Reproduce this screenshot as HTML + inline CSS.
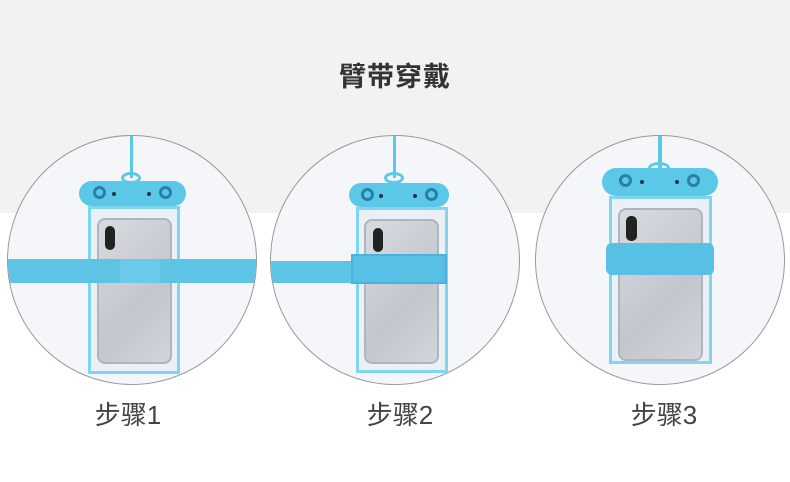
<!DOCTYPE html>
<html><head><meta charset="utf-8"><style>
*{margin:0;padding:0;box-sizing:border-box}
body{width:790px;height:482px;position:relative;overflow:hidden;background:#fff;font-family:"Liberation Sans","Noto Sans CJK SC",sans-serif}
.top{position:absolute;left:0;top:0;width:790px;height:213px;background:#f2f2f2}
.title{position:absolute;left:0;width:790px;top:55px;text-align:center;font-size:27px;font-weight:bold;color:#333;letter-spacing:1px}
.c{position:absolute;top:135px;width:250px;height:250px;border-radius:50%;border:1.5px solid #999;background:#f4f6fa;overflow:hidden}
.a{position:absolute}
.cap{background:#5cc8e8;border-radius:14px}
.hole{position:absolute;width:13px;height:13px;border-radius:50%;border:3px solid #2a7fa8;top:7px}
.dot{position:absolute;width:4px;height:4px;border-radius:50%;background:#234;top:12px}
.body{border:3px solid #7fd6f0;background:#eaf0f6}
.phone{background:linear-gradient(135deg,#d8dbe1,#c2c6cd 60%,#d2d5db);border-radius:8px;border:2px solid #b0b4bc}
.cam{background:#222;border-radius:5px}
.strap{background:#5ec4e6}
.cord{background:#5cc8e8}
.lbl{position:absolute;top:395px;font-size:26px;color:#444;width:200px;text-align:center}
</style></head><body>
<div class="top"></div>
<div class="title">臂带穿戴</div>

<!-- circle 1 -->
<div class="c" style="left:7px">
 <div class="a cord" style="left:122px;top:0;width:3px;height:42px"></div>
 <div class="a" style="left:113px;top:36px;width:20px;height:12px;border:3px solid #5cc8e8;border-radius:50%"></div>
 <div class="a cap" style="left:71px;top:45px;width:107px;height:25px"><div class="hole" style="left:14px;top:5px"></div><div class="dot" style="left:33px;top:11px"></div><div class="dot" style="left:68px;top:11px"></div><div class="hole" style="left:80px;top:5px"></div></div>
 <div class="a body" style="left:80px;top:70px;width:92px;height:168px"></div>
 <div class="a phone" style="left:89px;top:82px;width:75px;height:146px"></div>
 <div class="a cam" style="left:97px;top:90px;width:10px;height:24px"></div>
 <div class="a strap" style="left:0;top:123px;width:250px;height:24px"></div>
 <div class="a" style="left:112px;top:123px;width:40px;height:24px;background:#6cc9ea"></div>
</div>

<!-- circle 2 -->
<div class="c" style="left:270px">
 <div class="a cord" style="left:122px;top:0;width:3px;height:42px"></div>
 <div class="a" style="left:113px;top:36px;width:20px;height:12px;border:3px solid #5cc8e8;border-radius:50%"></div>
 <div class="a cap" style="left:78px;top:47px;width:100px;height:24px"><div class="hole" style="left:12px;top:5px"></div><div class="dot" style="left:30px;top:11px"></div><div class="dot" style="left:64px;top:11px"></div><div class="hole" style="left:76px;top:5px"></div></div>
 <div class="a body" style="left:85px;top:71px;width:92px;height:166px"></div>
 <div class="a phone" style="left:93px;top:83px;width:75px;height:145px"></div>
 <div class="a cam" style="left:102px;top:92px;width:10px;height:24px"></div>
 <div class="a strap" style="left:0;top:125px;width:85px;height:22px"></div>
 <div class="a strap" style="left:80px;top:118px;width:96px;height:30px;background:#58c0e4;border:2px solid #49b3da"></div>
</div>

<!-- circle 3 -->
<div class="c" style="left:535px">
 <div class="a cord" style="left:122px;top:0;width:4px;height:32px"></div>
 <div class="a" style="left:112px;top:26px;width:22px;height:12px;border:3px solid #5cc8e8;border-radius:50%"></div>
 <div class="a cap" style="left:66px;top:32px;width:116px;height:28px"><div class="hole" style="left:17px;top:6px"></div><div class="dot" style="left:38px;top:12px"></div><div class="dot" style="left:73px;top:12px"></div><div class="hole" style="left:85px;top:6px"></div></div>
 <div class="a body" style="left:73px;top:60px;width:103px;height:168px"></div>
 <div class="a phone" style="left:82px;top:72px;width:85px;height:153px"></div>
 <div class="a cam" style="left:90px;top:80px;width:11px;height:25px"></div>
 <div class="a strap" style="left:70px;top:107px;width:108px;height:32px;background:#58c0e4;border-radius:6px"></div>
</div>

<div class="lbl" style="left:28px">步骤1</div>
<div class="lbl" style="left:300px">步骤2</div>
<div class="lbl" style="left:564px">步骤3</div>
</body></html>
